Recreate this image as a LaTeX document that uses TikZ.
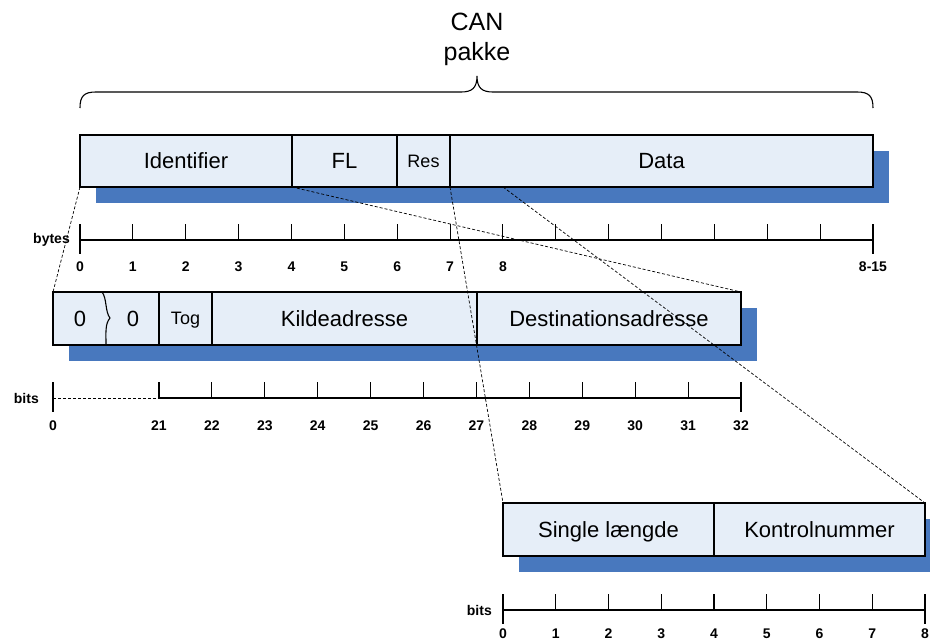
\documentclass[tikz,border=0pt]{standalone}
\usepackage{fontspec}
\setmainfont{Liberation Sans}
\usetikzlibrary{calc,positioning}
\definecolor{fieldfill}{RGB}{230,238,248}
\definecolor{shadowblue}{RGB}{72,120,190}
\tikzset{
  field/.style={draw, line width=1.1pt, fill=fieldfill, minimum height=53pt, inner sep=0pt, outer sep=0pt, anchor=north west, font=\fontsize{22}{26}\selectfont, text height=15.75pt, text depth=0pt},
  smallfield/.style={field, font=\fontsize{18}{22}\selectfont, text height=12.9pt},
  shadowbar/.style={fill=shadowblue},
  axisline/.style={line width=1.1pt},
  ticklbl/.style={font=\fontsize{14}{16}\selectfont\bfseries, inner sep=0pt},
  title/.style={font=\fontsize{25}{30}\selectfont, inner sep=0pt, anchor=base},
  link/.style={dashed, line width=0.7pt, dash pattern=on 3pt off 2pt},
}
\begin{document}
\begin{tikzpicture}[x=1pt, y=-1pt]
  \useasboundingbox (0,0) rectangle (930,643);

  % --- Title and brace ---
  \node[title] (can) at (477,30) {CAN};
  \node[title] (pakke) at (477,60) {pakke};
  \draw[line width=1.1pt] (80,108) .. controls (80,96) and (84,92) .. (96,92) -- (461,92)
    .. controls (472,92) and (477,88) .. (477,76)
    .. controls (477,88) and (482,92) .. (493,92) -- (857,92)
    .. controls (869,92) and (873,96) .. (873,108);

  % --- CAN packet ---
  \fill[shadowbar] (96,151) rectangle (889,203);
  \node[field, minimum width=212pt, minimum height=52pt] (id) at (80,135) {Identifier};
  \node[field, minimum width=105pt, minimum height=52pt] (fl) at (id.north east) {FL};
  \node[smallfield, minimum width=53pt, minimum height=52pt] (res) at (fl.north east) {Res};
  \node[field, minimum width=423pt, minimum height=52pt] (data) at (res.north east) {Data};
  \coordinate (b8) at (503,187);

  % bytes axis
  \node[ticklbl, anchor=east] (bytes) at (70,240) {bytes};
  \draw[axisline] (80,240) -- (873,240);
  \foreach \i in {1,...,14}
    \draw[axisline] (80+52.867*\i,224) -- ++(0,16);
  \draw[axisline] (80,224) -- (80,254);
  \draw[axisline] (873,224) -- (873,254);
  \foreach \i in {0,...,8}
    \node[ticklbl] (by\i) at (80+52.867*\i,267) {\i};
  \node[ticklbl] (by15) at (873,267) {8-15};

  % --- Identifier ---
  \fill[shadowbar] (69,308) rectangle (757,361);
  \node[field, minimum width=106pt] (pad) at (53,292) {};
  \node[field, draw=none, fill=none, anchor=center] (padA) at (80,318.5) {0};
  \node[field, draw=none, fill=none, anchor=center] (padB) at (133,318.5) {0};
  \draw[line width=1.1pt] (102,292) .. controls (107,298) and (105,312) .. (110,318)
    .. controls (105,324) and (106,332) .. (106,345);
  \node[smallfield, minimum width=53pt] (tog) at (pad.north east) {Tog};
  \node[field, minimum width=265pt] (src) at (tog.north east) {Kildeadresse};
  \node[field, minimum width=264pt] (dst) at (src.north east) {Destinationsadresse};

  % bits axis
  \node[ticklbl, anchor=east] (bitsA) at (39,398) {bits};
  \draw[link] (53,398) -- (159,398);
  \draw[axisline] (159,398) -- (741,398);
  \draw[axisline] (53,382) -- (53,412);
  \draw[axisline] (741,382) -- (741,412);
  \foreach \i in {0,...,10}
    \draw[axisline] (159+52.91*\i,382) -- ++(0,16);
  \node[ticklbl] (bi0) at (53,426) {0};
  \foreach \i in {0,...,11}
    \pgfmathtruncatemacro{\n}{21+\i}
    \node[ticklbl] (bi\n) at (159+52.91*\i,426) {\n};

  % --- Data ---
  \fill[shadowbar] (519,519) rectangle (945,572);
  \node[field, minimum width=211pt] (len) at (503,503) {Single længde};
  \node[field, minimum width=211pt] (ctl) at (len.north east) {Kontrolnummer};

  % bits axis
  \node[ticklbl, anchor=east] (bitsB) at (492,610) {bits};
  \draw[axisline] (503,610) -- (925,610);
  \draw[axisline] (503,594) -- (503,624);
  \draw[axisline] (925,594) -- (925,624);
  \foreach \i in {1,...,7}
    \draw[axisline] (503+52.75*\i,594) -- ++(0,16);
  \foreach \i in {0,...,8}
    \node[ticklbl] (bd\i) at (503+52.75*\i,634) {\i};

  % --- Zoom lines ---
  \draw[link] (id.south west) -- (pad.north west);
  \draw[link] (fl.south west) -- (dst.north east);
  \draw[link] (data.south west) -- (len.north west);
  \draw[link] (b8) -- (ctl.north east);
\end{tikzpicture}
\end{document}
